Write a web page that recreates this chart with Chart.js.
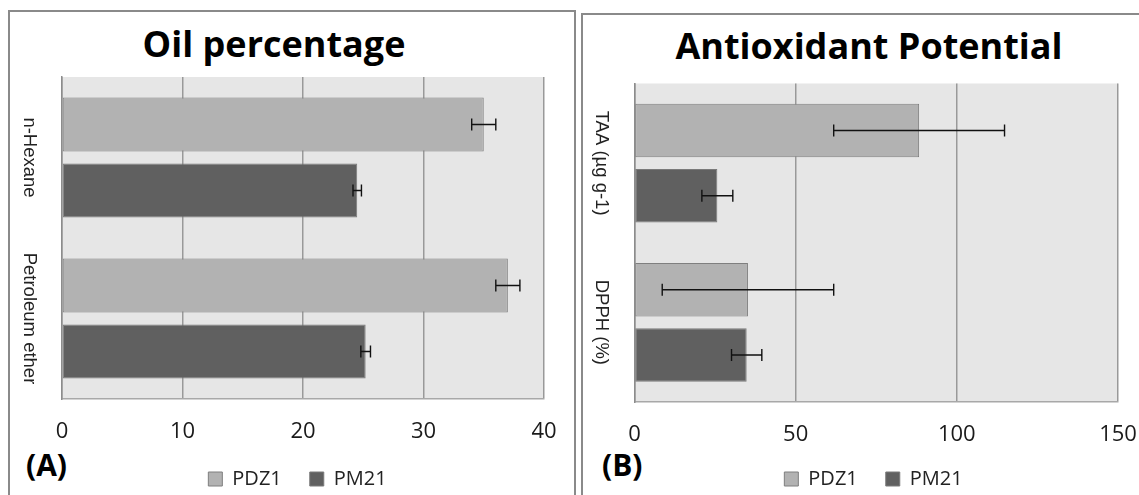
<!DOCTYPE html>
<html>
<head>
<meta charset="utf-8">
<script src="https://cdn.jsdelivr.net/npm/chart.js@4.4.1/dist/chart.umd.min.js"></script>
<style>
  html, body { margin: 0; padding: 0; background: #fff; }
  body { width: 1139px; height: 495px; position: relative; overflow: hidden; font-family: "Open Sans", sans-serif; }
  .panel { position: absolute; box-sizing: border-box; border: 2px solid #8a8a8a; }
  .title { position: absolute; font: bold 36px/36px "Open Sans", sans-serif; color: #000; white-space: nowrap; transform: translateX(-50%); }
  .tag { position: absolute; font: bold 30px/30px "Open Sans", sans-serif; color: #000; white-space: nowrap; }
  canvas { position: absolute; }
</style>
</head>
<body>
<div class="panel" style="left:8px; top:10px; width:568px; height:520px;"></div>
<div class="panel" style="left:581px; top:13px; width:570px; height:520px;"></div>
<div class="title" style="left:274px; top:26px;">Oil percentage</div>
<div class="title" style="left:869px; top:28px;">Antioxidant Potential</div>
<div class="tag" style="left:26px; top:450px;">(A)</div>
<div class="tag" style="left:602px; top:450px;">(B)</div>
<canvas id="cA" width="564" height="487" style="left:10px; top:12px;"></canvas>
<canvas id="cB" width="555" height="484" style="left:584px; top:15px;"></canvas>
<script>
// ---------- Panel A: Oil percentage ----------
const catsA = ['n-Hexane', 'Petroleum ether'];
const pdz1A = [35.0, 37.0];
const pm21A = [24.5, 25.2];
const pdz1ErrA = [1.0, 1.0];
const pm21ErrA = [0.35, 0.4];
const ticksA = [0, 10, 20, 30, 40];

// ---------- Panel B: Antioxidant Potential ----------
const catsB = ['TAA (µg g-1)', 'DPPH (%)'];
const pdz1B = [88.3, 35.2];
const pm21B = [25.7, 34.8];
const pdz1ErrB = [26.5, 26.6];
const pm21ErrB = [4.8, 4.7];
const ticksB = [0, 50, 100, 150];

const seriesNames = ['PDZ1', 'PM21'];

const plotBg = {
  id: 'plotBg',
  beforeDraw(chart) {
    const { ctx, chartArea: a } = chart;
    ctx.save();
    ctx.fillStyle = '#e6e6e6';
    ctx.fillRect(a.left, a.top, a.right - a.left, a.bottom - a.top);
    ctx.restore();
  }
};

// keep x tick labels from being clipped by the (deliberately short) axis box
const noLabelClip = {
  id: 'noLabelClip',
  afterLayout(chart) { chart.scales.x.bottom = chart.height; }
};

const errorBars = {
  id: 'errorBars',
  afterDatasetsDraw(chart) {
    const ctx = chart.ctx;
    const xs = chart.scales.x;
    chart.data.datasets.forEach((ds, i) => {
      const meta = chart.getDatasetMeta(i);
      meta.data.forEach((bar, j) => {
        const v = ds.data[j], e = ds.errors[j];
        const x1 = xs.getPixelForValue(v - e);
        const x2 = xs.getPixelForValue(v + e);
        const y = bar.y;
        ctx.save();
        ctx.strokeStyle = '#111';
        ctx.lineWidth = 1.4;
        ctx.beginPath();
        ctx.moveTo(x1, y); ctx.lineTo(x2, y);
        ctx.moveTo(x1, y - 6); ctx.lineTo(x1, y + 6);
        ctx.moveTo(x2, y - 6); ctx.lineTo(x2, y + 6);
        ctx.stroke();
        ctx.restore();
      });
    });
  }
};

const catLabels = {
  id: 'catLabels',
  afterDraw(chart, args, opts) {
    const ys = chart.scales.y;
    const ctx = chart.ctx;
    ctx.save();
    ctx.font = '18.5px "Liberation Sans", Arial, sans-serif';
    ctx.fillStyle = '#222';
    ctx.textAlign = 'center';
    ctx.textBaseline = 'middle';
    chart.data.labels.forEach((lab, i) => {
      const y = ys.getPixelForTick(i);
      const x = chart.chartArea.left - opts.offset;
      ctx.save();
      ctx.translate(x, y);
      ctx.rotate(Math.PI / 2);
      ctx.fillText(lab, 0, 0);
      ctx.restore();
    });
    ctx.restore();
  }
};

function makeChart(id, cats, d1, d2, e1, e2, ticks, pad, yWidth, xHeight, xPadRight) {
  return new Chart(document.getElementById(id), {
    type: 'bar',
    data: {
      labels: cats,
      datasets: [
        { label: seriesNames[0], data: d1, errors: e1, backgroundColor: '#b2b2b2', borderColor: '#7f7f7f', borderWidth: 1, borderSkipped: false },
        { label: seriesNames[1], data: d2, errors: e2, backgroundColor: '#606060', borderColor: '#7a7a7a', borderWidth: 1, borderSkipped: false }
      ]
    },
    options: {
      indexAxis: 'y',
      responsive: false,
      animation: false,
      categoryPercentage: 0.82,
      barPercentage: 0.82,
      layout: { padding: pad },
      scales: {
        x: {
          min: ticks[0],
          max: ticks[ticks.length - 1],
          afterBuildTicks: s => { s.ticks = ticks.map(v => ({ value: v })); },
          afterFit: s => { s.height = xHeight; s.paddingLeft = 0; s.paddingRight = xPadRight; },
          grid: { color: '#999999', lineWidth: 1.5, drawTicks: false },
          border: { display: true, color: '#a8a8a8', width: 1.5 },
          ticks: { font: { family: 'Open Sans', size: 22 }, color: '#1a1a1a', padding: 20, maxRotation: 0 }
        },
        y: {
          afterFit: s => { s.width = yWidth; },
          grid: { display: false },
          border: { display: true, color: '#8c8c8c', width: 1.5 },
          ticks: { display: false }
        }
      },
      plugins: {
        title: { display: false },
        tooltip: { enabled: false },
        catLabels: { offset: 33 },
        legend: {
          position: 'bottom',
          labels: {
            boxWidth: 14, boxHeight: 14, padding: 28,
            font: { family: 'Open Sans', size: 20 }, color: '#222'
          }
        }
      }
    },
    plugins: [plotBg, noLabelClip, errorBars, catLabels]
  });
}

makeChart('cA', catsA, pdz1A, pm21A, pdz1ErrA, pm21ErrA, ticksA,
  { top: 65, left: 11, right: 0, bottom: 0 }, 41, 42, 30);
makeChart('cB', catsB, pdz1B, pm21B, pdz1ErrB, pm21ErrB, ticksB,
  { top: 68.5, left: 24, right: 0, bottom: 0 }, 26.5, 39, 21);
</script>
</body>
</html>
